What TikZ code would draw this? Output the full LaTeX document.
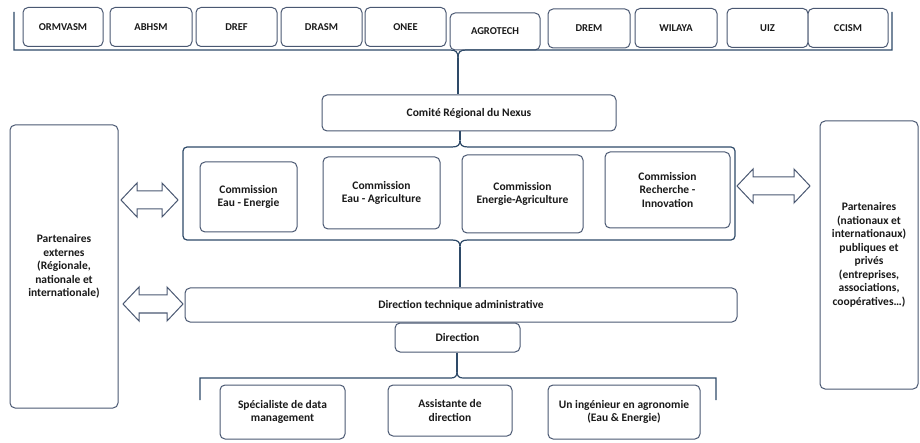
\documentclass[tikz,border=0pt]{standalone}
\usepackage{fontspec}
\setmainfont{Carlito}
\definecolor{frame}{HTML}{4A5872}
\definecolor{link}{HTML}{2E4A68}
\definecolor{ink}{HTML}{1A1A1A}

% two-headed block arrow between x=#1 and x=#2 on height #3
\newcommand{\twoheaded}[3]{%
  \draw[blockarrow] (#1,#3) -- (#1+16,#3-17) -- (#1+16,#3-9) -- (#2-16,#3-9)
    -- (#2-16,#3-17) -- (#2,#3) -- (#2-16,#3+17) -- (#2-16,#3+9)
    -- (#1+16,#3+9) -- (#1+16,#3+17) -- cycle;}

\begin{document}
\begin{tikzpicture}[x=1pt,y=-1pt,
  box/.style={draw=frame, line width=1pt, rounded corners=5pt, fill=white,
    text=ink, align=center, inner sep=1pt,
    font=\fontsize{11.5}{13.5}\selectfont\bfseries},
  tag/.style={box, minimum height=39pt,
    font=\fontsize{10.5}{12}\selectfont\bfseries},
  link/.style={draw=link, line width=1.2pt},
  blockarrow/.style={draw=frame, fill=white, line width=1pt, line join=miter}]
\useasboundingbox (0,0) rectangle (920,443);

% member institutions
\node[tag, minimum width=80pt] (t1) at (63,27) {ORMVASM};
\node[tag, minimum width=82pt] (t2) at (151,27) {ABHSM};
\node[tag, minimum width=81pt] (t3) at (236.5,27) {DREF};
\node[tag, minimum width=81pt] (t4) at (321.5,27) {DRASM};
\node[tag, minimum width=81pt] (t5) at (405.5,27) {ONEE};
\node[tag, minimum width=90pt, minimum height=37pt] (t6) at (495,31.5) {AGROTECH};
\node[tag, minimum width=82pt] (t7) at (589,28.5) {DREM};
\node[tag, minimum width=82pt] (t8) at (676,28) {WILAYA};
\node[tag, minimum width=81pt] (t9) at (767.5,28) {UIZ};
\node[tag, minimum width=80pt] (t10) at (848,28) {CCISM};

% bracket under the member row
\coordinate (ttip) at (458,58);
\draw[link] (14,12) -- (14,50) -- (450,50) .. controls (456,50) and (458,52) .. (ttip);
\draw[link] (892,12) -- (892,50) -- (466,50) .. controls (460,50) and (458,52) .. (ttip);

% regional committee
\node[box, minimum width=294pt, minimum height=36pt] (comite) at (469,113)
  {Comité Régional du Nexus};
\draw[link] (ttip) -- (ttip |- comite.north);

% commissions frame
\coordinate (ctop) at (460,140);
\coordinate (cbot) at (460,247);
\draw[link, rounded corners=4pt] (452,147) -- (183,147) -- (183,240) -- (452,240);
\draw[link, rounded corners=4pt] (468,147) -- (735,147) -- (735,240) -- (468,240);
\draw[link] (452,147) .. controls (458,147) and (460,145) .. (ctop)
  .. controls (460,145) and (462,147) .. (468,147);
\draw[link] (452,240) .. controls (458,240) and (460,242) .. (cbot)
  .. controls (460,242) and (462,240) .. (468,240);
\draw[link] (comite.south -| ctop) -- (ctop);

\node[box, minimum width=97pt, minimum height=70pt] (c1) at (248.5,197)
  {Commission\\Eau - Energie};
\node[box, minimum width=117pt, minimum height=72pt] (c2) at (381.5,193)
  {Commission\\Eau - Agriculture};
\node[box, minimum width=121pt, minimum height=78pt] (c3) at (522.5,194)
  {Commission\\Energie-Agriculture};
\node[box, minimum width=125pt, minimum height=76pt] (c4) at (667.5,190)
  {Commission\\Recherche -\\Innovation};

% partners
\node[box, minimum width=108pt, minimum height=283pt] (ext) at (64,266.5)
  {Partenaires\\externes\\(Régionale,\\nationale et\\internationale)};
\node[box, minimum width=98pt, minimum height=268pt] (part) at (869,255)
  {Partenaires\\(nationaux et\\internationaux)\\publiques et\\privés\\(entreprises,\\associations,\\coopératives…)};

% management
\node[box, minimum width=552pt, minimum height=34pt] (dta) at (461,305)
  {Direction technique administrative};
\draw[link] (cbot) -- (cbot |- dta.north);
\node[box, minimum width=125pt, minimum height=29pt] (dir) at (457.5,337.5)
  {Direction};

% exchange arrows
\twoheaded{121}{178}{200}
\twoheaded{123}{183}{304}
\twoheaded{737}{810}{186}

% staff bracket
\coordinate (btip) at (457,372);
\draw[link] (200,400) -- (200,378) -- (451,378) .. controls (455,378) and (457,376) .. (btip);
\draw[link] (716,400) -- (716,378) -- (463,378) .. controls (459,378) and (457,376) .. (btip);
\draw[link] (dir.south -| btip) -- (btip);

\node[box, minimum width=125pt, minimum height=54pt] (b1) at (282.5,412)
  {Spécialiste de data\\management};
\node[box, minimum width=124pt, minimum height=51pt] (b2) at (450,410.5)
  {Assistante de\\direction};
\node[box, minimum width=152pt, minimum height=54pt] (b3) at (624,412)
  {Un ingénieur en agronomie\\(Eau \& Energie)};
\end{tikzpicture}
\end{document}
